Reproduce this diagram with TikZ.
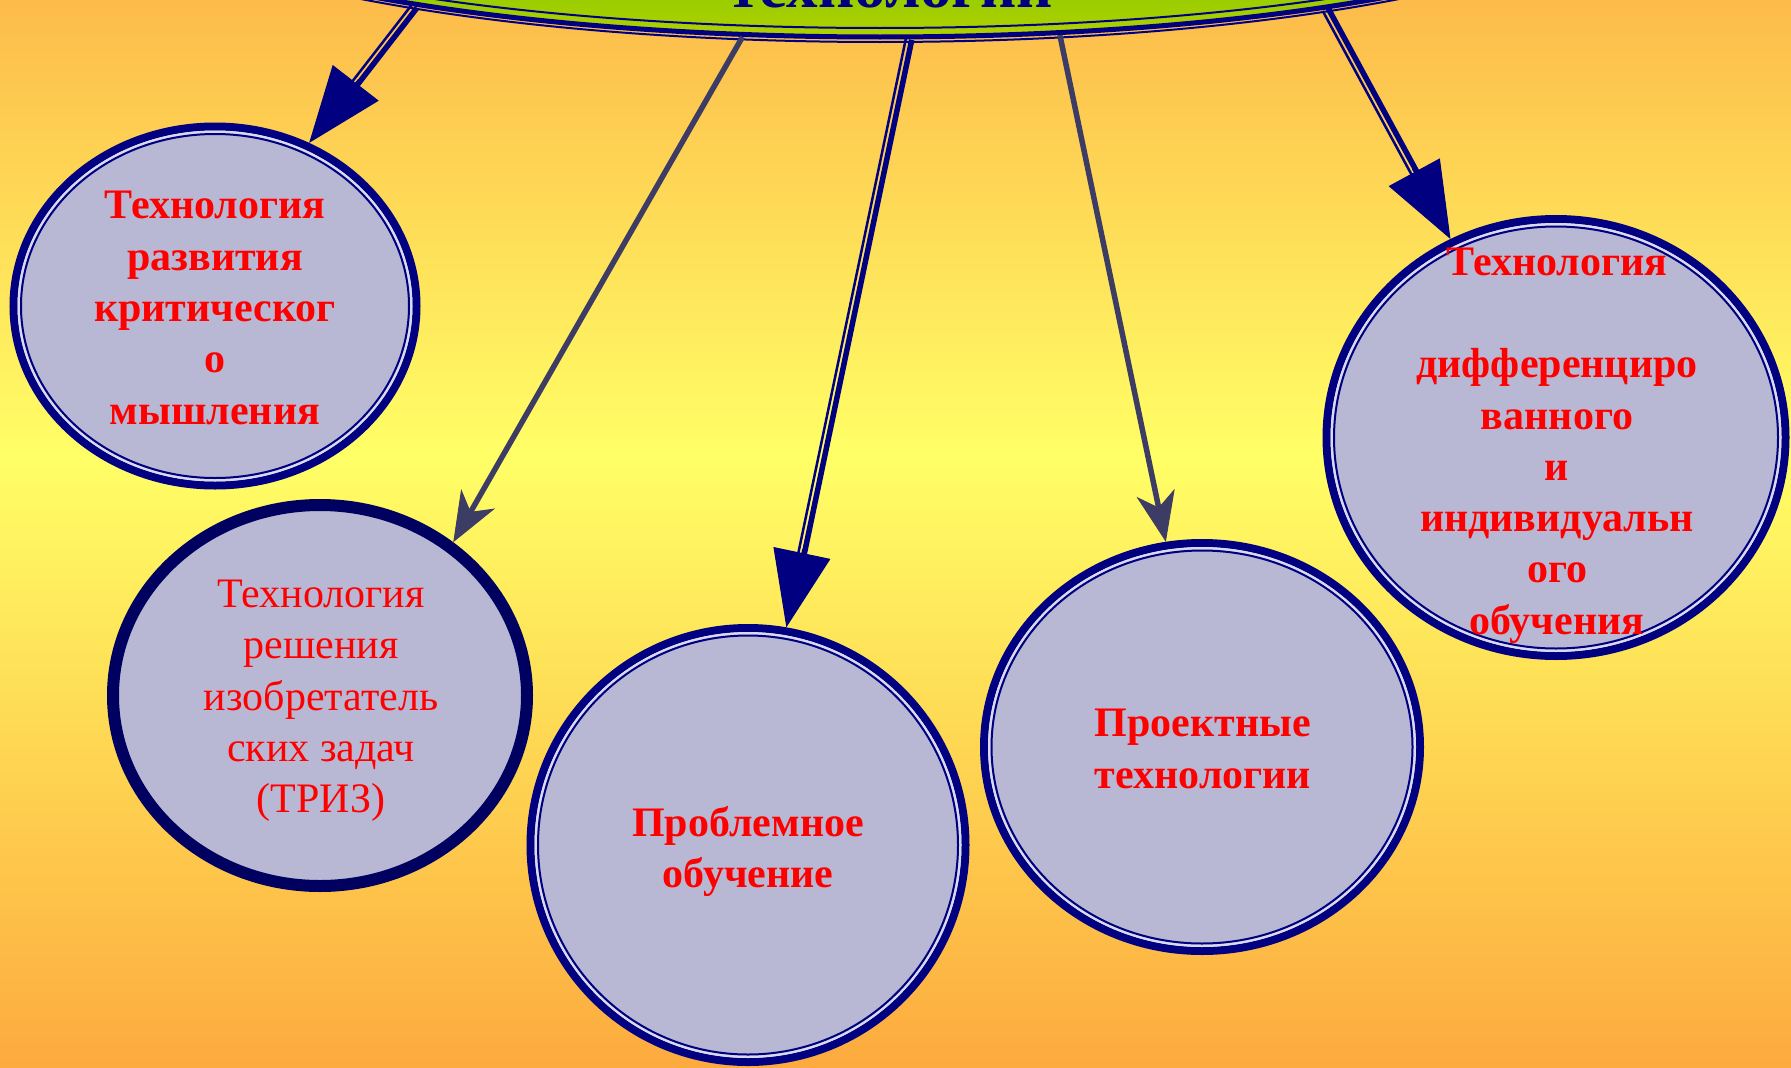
\documentclass[tikz,border=0pt]{standalone}
\usepackage{fontspec}
\setmainfont{Liberation Serif}
\usetikzlibrary{shapes.geometric,arrows.meta,calc}
\definecolor{navy}{RGB}{0,0,128}
\definecolor{darknavy}{RGB}{0,0,96}
\definecolor{slate}{RGB}{60,60,100}
\definecolor{lav}{RGB}{184,184,212}
\definecolor{gaplight}{RGB}{218,218,238}
\definecolor{bgtop}{RGB}{253,187,74}
\definecolor{bgmid}{RGB}{255,255,102}
\definecolor{bgbot}{RGB}{253,170,62}
\definecolor{greenA}{RGB}{148,205,0}
\definecolor{greenB}{RGB}{180,208,0}
\definecolor{txtred}{RGB}{255,0,0}
\tikzset{
 techbox/.style={ellipse, draw=navy, line width=8pt, fill=lav, inner sep=0pt},
 trizbox/.style={ellipse, draw=darknavy, line width=12pt, fill=lav, inner sep=0pt},
 gapline/.style={draw=gaplight, line width=2.5pt},
 innerline/.style={draw=navy, line width=2pt},
 topell/.style={ellipse, draw=navy, line width=5pt, inner sep=0pt, minimum width=1548pt, minimum height=328pt},
 topthin/.style={draw=navy, line width=2pt},
 titletext/.style={text=navy, font=\bfseries\fontsize{63}{70}\selectfont, inner sep=0pt, anchor=base},
 boldlabel/.style={text=txtred, align=center, inner sep=0pt, font=\bfseries\fontsize{42}{51.3}\selectfont},
 plainlabel/.style={text=txtred, align=center, inner sep=0pt, font=\fontsize{42}{51.3}\selectfont},
 shaftthick/.style={draw=navy, line width=5.5pt, shorten >=50pt},
 shaftthin/.style={draw=navy, line width=2.5pt, shorten >=50pt},
 bighead/.style={draw=navy, line width=1pt, -{Triangle[length=76pt,width=58pt,line width=1pt]}},
 slatearrow/.style={draw=slate, line width=5.5pt, -{Stealth[length=50pt,width=39pt,inset=15pt,line width=1pt]}},
}
\newcommand{\techcirc}[5]{%
  \node[techbox, minimum width={2*#4-8}, minimum height={2*#5-8}] (#1) at (#2,#3) {};
  \draw[gapline] (#1.center) ellipse [x radius={(#4-9.25)*1pt}, y radius={(#5-9.25)*1pt}];
  \draw[innerline] (#1.center) ellipse [x radius={(#4-11.5)*1pt}, y radius={(#5-11.5)*1pt}];
}
\newcommand{\dblarrow}[2]{%
  \draw[shaftthick] ($(#1)!2.5pt!90:(#2)$) -- ($(#2)!2.5pt!-90:(#1)$);
  \draw[shaftthin] ($(#1)!3.5pt!-90:(#2)$) -- ($(#2)!3.5pt!90:(#1)$);
  \draw[bighead] ($(#2)!80pt!(#1)$) -- (#2);
}
\begin{document}
\begin{tikzpicture}[x=1pt,y=-1pt]
\useasboundingbox (0,0) rectangle (1791,1068);
\clip (0,0) rectangle (1791,1068);
\shade[top color=bgtop, bottom color=bgmid] (0,0) rectangle (1791,457);
\shade[top color=bgmid, bottom color=bgbot] (0,456) rectangle (1791,1068);
% top ellipse
\begin{scope}
\clip (880,-127) ellipse [x radius=774pt, y radius=164pt];
\shade[top color=greenA, bottom color=greenB] (80,-10) rectangle (1700,40);
\end{scope}
\node[topell] (top) at (880,-127) {};
\draw[topthin] (top.center) ellipse [x radius=765pt, y radius=155pt];
\draw[topthin] (top.center) ellipse [x radius=779pt, y radius=169pt];
\node[titletext] (title) at (891,8) {технологии};
% circles
\techcirc{c1}{215}{306}{205.5}{183.5}
\node[trizbox, minimum width=414pt, minimum height=381pt] (c2) at (320,695.5) {};
\techcirc{c3}{748}{845}{221.5}{221}
\techcirc{c4}{1202}{747}{222}{208}
\techcirc{c5}{1556}{437.5}{233.5}{222.5}
% connectors
\dblarrow{top.196}{c1.60}
\draw[slatearrow] (top.230) -- (c2.49);
\dblarrow{top.280}{c3.80}
\draw[slatearrow] (top.318) -- (c4.100);
\dblarrow{top.343}{c5.118}
% labels
\node[boldlabel] (t1) at (215,308) {Технология\\развития\\критическог\\о\\мышления};
\node[plainlabel] (t2) at (321,701) {Технология\\решения\\изобретатель\\ских задач\\(ТРИЗ)};
\node[boldlabel] (t3) at (748,851.5) {Проблемное\\обучение};
\node[boldlabel] (t4) at (1203,749) {Проектные\\технологии};
\node[boldlabel] (t5) at (1557,445.5) {Технология\\\mbox{}\\дифференциро\\ванного\\и\\индивидуальн\\ого\\обучения};
\end{tikzpicture}
\end{document}
